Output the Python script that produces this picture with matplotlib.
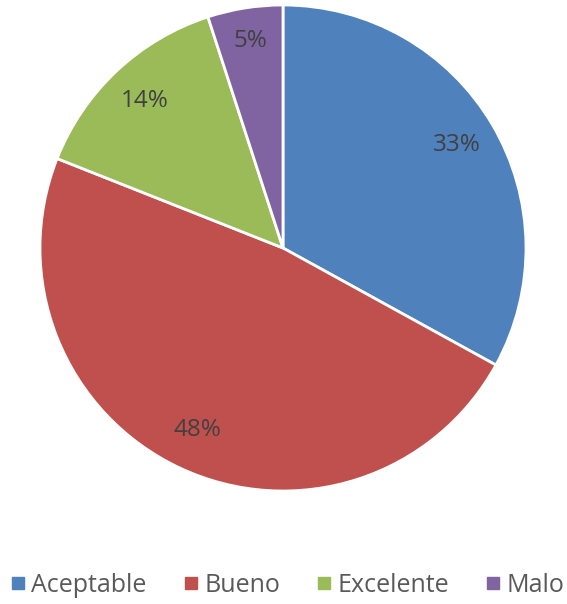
import matplotlib.pyplot as plt
from matplotlib.lines import Line2D

categories = ["Aceptable", "Bueno", "Excelente", "Malo"]
values = [33, 48, 14, 5]
colors = ["#4F81BD", "#C0504D", "#9BBB59", "#8064A2"]

plt.rcParams['font.family'] = ['Open Sans', 'DejaVu Sans']

fig = plt.figure(figsize=(5.67, 6.04), dpi=100, facecolor='w')
ax = fig.add_axes([40 / 567, 113 / 604, 486 / 567, 486 / 604])

wedges, texts, autotexts = ax.pie(
    values, colors=colors, startangle=90, counterclock=False,
    autopct=lambda p: "%d%%" % round(p), pctdistance=0.83,
    wedgeprops=dict(edgecolor='white', linewidth=2),
    textprops=dict(color='#404040', fontsize=17.5))
# the small slice label sits a bit further out in the original
autotexts[3].set_position((autotexts[3].get_position()[0] * 1.04,
                           autotexts[3].get_position()[1] * 1.04))
ax.set_xlim(-1, 1)
ax.set_ylim(-1, 1)
ax.set_aspect('equal')

handles = [Line2D([], [], marker='s', linestyle='none', color=c, markersize=8)
           for c in colors]
fig.legend(handles, categories, loc='center', bbox_to_anchor=(0.508, 1 - 585 / 604),
           ncol=4, frameon=False, fontsize=18, handlelength=0.5,
           handletextpad=0.3, columnspacing=1.5, labelcolor='#595959',
           borderpad=0, borderaxespad=0)

fig.savefig("out.png", dpi=100)
